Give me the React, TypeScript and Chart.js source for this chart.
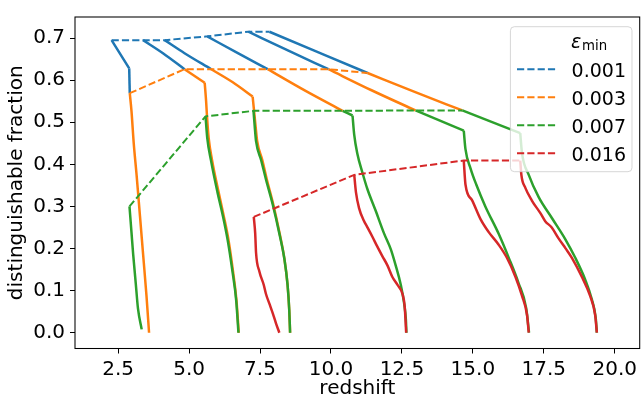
import React, { useEffect, useRef } from "react";
import { Chart, registerables } from "chart.js";

Chart.register(...registerables);

// ---- axis ticks & labels ----
const xTicks = [2.5, 5.0, 7.5, 10.0, 12.5, 15.0, 17.5, 20.0];
const yTicks = [0.0, 0.1, 0.2, 0.3, 0.4, 0.5, 0.6, 0.7];
const xLabel = "redshift";
const yLabel = "distinguishable fraction";
const legendLabels = ["0.001", "0.003", "0.007", "0.016"];
const colors = ["#1f77b4", "#ff7f0e", "#2ca02c", "#d62728"];

// ---- eps = 0.001 (blue) tracks ----
const blue1 = [[2.27, 0.695], [2.89, 0.628], [2.91, 0.569]];
const blue2 = [[3.38, 0.695], [4.08, 0.664], [4.84, 0.626]];
const blue3 = [[4.14, 0.695], [4.84, 0.664], [5.78, 0.626]];
const blue4 = [[5.64, 0.704], [6.72, 0.664], [7.77, 0.626]];
const blue5 = [[7.09, 0.715], [8.5, 0.67], [9.91, 0.626]];
const blue6 = [[7.83, 0.715], [9.56, 0.666], [11.29, 0.617]];
const blueTops = [[2.27, 0.695], [3.38, 0.695], [4.14, 0.695], [5.64, 0.704], [7.09, 0.715], [7.83, 0.715]];
const blueKinks = [1, 2, 2, 2, 2, 2];

// ---- eps = 0.003 (orange) tracks ----
const orange1 = [[2.91, 0.569], [2.97, 0.527], [3.05, 0.45], [3.15, 0.375], [3.27, 0.277], [3.38, 0.186], [3.5, 0.087], [3.59, 0.0]];
const orange2 = [[4.84, 0.626], [5.55, 0.594], [5.6, 0.55], [5.63, 0.516], [5.69, 0.463], [5.81, 0.41], [6.04, 0.334], [6.21, 0.281], [6.39, 0.22], [6.55, 0.145], [6.67, 0.077], [6.75, 0.0]];
const orange3 = [[5.78, 0.626], [6.54, 0.595], [7.24, 0.561], [7.29, 0.527], [7.34, 0.493], [7.4, 0.455], [7.58, 0.41], [7.74, 0.364], [7.97, 0.304], [8.19, 0.236], [8.36, 0.175], [8.47, 0.114], [8.53, 0.054], [8.56, 0.0]];
const orange4 = [[7.77, 0.626], [9.09, 0.575], [10.41, 0.527]];
const orange5 = [[9.91, 0.626], [11.43, 0.576], [12.98, 0.528]];
const orange6 = [[11.29, 0.617], [12.95, 0.572], [14.63, 0.528]];
const orangeTops = [[2.91, 0.569], [4.84, 0.626], [5.78, 0.626], [7.77, 0.626], [9.91, 0.626], [11.29, 0.617]];
const orangeKinks = [0, 1, 2, 2, 2, 2];

// ---- eps = 0.007 (green) tracks ----
const green1 = [[2.9, 0.3], [2.97, 0.239], [3.03, 0.186], [3.12, 0.118], [3.2, 0.057], [3.33, 0.008]];
const green2 = [[5.58, 0.514], [5.64, 0.463], [5.77, 0.41], [6.0, 0.334], [6.18, 0.281], [6.36, 0.22], [6.53, 0.145], [6.66, 0.077], [6.74, 0.0]];
const green3 = [[7.27, 0.527], [7.31, 0.493], [7.36, 0.455], [7.54, 0.41], [7.71, 0.364], [7.95, 0.304], [8.18, 0.236], [8.36, 0.175], [8.47, 0.114], [8.53, 0.054], [8.56, 0.0]];
const green4 = [[10.41, 0.527], [10.76, 0.516], [10.82, 0.47], [10.93, 0.425], [11.11, 0.38], [11.28, 0.342], [11.58, 0.289], [11.87, 0.236], [12.11, 0.198], [12.28, 0.16], [12.46, 0.114], [12.58, 0.069], [12.64, 0.031], [12.66, 0.0]];
const green5 = [[12.98, 0.528], [14.68, 0.48], [14.74, 0.436], [14.92, 0.39], [15.12, 0.352], [15.44, 0.3], [15.91, 0.235], [16.26, 0.179], [16.61, 0.118], [16.88, 0.058], [16.98, 0.0]];
const green6 = [[14.63, 0.528], [16.67, 0.474], [16.73, 0.428], [16.97, 0.375], [17.32, 0.322], [17.79, 0.272], [18.26, 0.222], [18.61, 0.178], [18.96, 0.126], [19.19, 0.08], [19.33, 0.035], [19.37, 0.0]];
const greenTops = [[2.9, 0.3], [5.58, 0.514], [7.27, 0.527], [10.41, 0.527], [12.98, 0.528], [14.63, 0.528]];
const greenKinks = [0, 0, 0, 1, 1, 1];

// ---- eps = 0.016 (red) tracks ----
const red3 = [[7.28, 0.275], [7.33, 0.236], [7.36, 0.19], [7.48, 0.145], [7.63, 0.114], [7.71, 0.092], [7.83, 0.069], [7.95, 0.046], [8.06, 0.023], [8.18, 0.0]];
const red4 = [[10.82, 0.375], [10.88, 0.334], [10.99, 0.296], [11.16, 0.266], [11.28, 0.251], [11.46, 0.228], [11.63, 0.205], [11.81, 0.182], [11.99, 0.16], [12.16, 0.133], [12.34, 0.114], [12.52, 0.092], [12.6, 0.061], [12.65, 0.0]];
const red5 = [[14.68, 0.409], [14.74, 0.352], [14.97, 0.315], [15.27, 0.27], [15.56, 0.239], [15.91, 0.209], [16.2, 0.178], [16.5, 0.133], [16.73, 0.088], [16.91, 0.042], [16.97, 0.0]];
const red6 = [[16.67, 0.409], [16.71, 0.375], [16.85, 0.344], [17.08, 0.314], [17.38, 0.284], [17.55, 0.265], [17.78, 0.25], [18.02, 0.224], [18.26, 0.201], [18.49, 0.178], [18.84, 0.133], [19.13, 0.088], [19.31, 0.042], [19.37, 0.0]];
const redTops = [[7.28, 0.275], [10.82, 0.375], [14.68, 0.409], [16.67, 0.409]];
const redKinks = [0, 0, 0, 0];

const groups = [
  { tracks: [blue1, blue2, blue3, blue4, blue5, blue6], kinks: blueKinks, tops: blueTops },
  { tracks: [orange1, orange2, orange3, orange4, orange5, orange6], kinks: orangeKinks, tops: orangeTops },
  { tracks: [green1, green2, green3, green4, green5, green6], kinks: greenKinks, tops: greenTops },
  { tracks: [red3, red4, red5, red6], kinks: redKinks, tops: redTops },
];

const FONT = "'DejaVu Sans', 'Liberation Sans', sans-serif";

const frameAndLegend = {
  id: "frameAndLegend",
  afterDraw(chart: any) {
    const { ctx, chartArea } = chart;
    const { left, top, right, bottom } = chartArea;
    ctx.save();
    // frame
    ctx.strokeStyle = "#000";
    ctx.lineWidth = 1.05;
    ctx.strokeRect(left, top, right - left, bottom - top);

    // legend box
    const bx = right - 129.3;
    const by = top + 9.7;
    const bw = 121.6;
    const bh = 145;
    const r = 4;
    ctx.beginPath();
    ctx.moveTo(bx + r, by);
    ctx.lineTo(bx + bw - r, by);
    ctx.quadraticCurveTo(bx + bw, by, bx + bw, by + r);
    ctx.lineTo(bx + bw, by + bh - r);
    ctx.quadraticCurveTo(bx + bw, by + bh, bx + bw - r, by + bh);
    ctx.lineTo(bx + r, by + bh);
    ctx.quadraticCurveTo(bx, by + bh, bx, by + bh - r);
    ctx.lineTo(bx, by + r);
    ctx.quadraticCurveTo(bx, by, bx + r, by);
    ctx.closePath();
    ctx.fillStyle = "rgba(255,255,255,0.8)";
    ctx.fill();
    ctx.strokeStyle = "rgba(204,204,204,0.8)";
    ctx.lineWidth = 1;
    ctx.stroke();

    // title: epsilon_min
    ctx.fillStyle = "#000";
    ctx.textBaseline = "alphabetic";
    ctx.textAlign = "left";
    ctx.font = `oblique 19px ${FONT}`;
    ctx.fillText("ε", bx + 60.6, by + 21.6);
    ctx.font = `13.3px ${FONT}`;
    ctx.fillText("min", bx + 71.6, by + 23.3);

    // entries
    legendLabels.forEach((lab, i) => {
      const y = by + 42.6 + i * 28;
      ctx.strokeStyle = colors[i];
      ctx.lineWidth = 2;
      ctx.setLineDash([7.2, 3.1]);
      ctx.beginPath();
      ctx.moveTo(bx + 6.6, y);
      ctx.lineTo(bx + 45, y);
      ctx.stroke();
      ctx.setLineDash([]);
      ctx.fillStyle = "#000";
      ctx.font = `19px ${FONT}`;
      ctx.fillText(lab, bx + 61.2, y + 8);
    });
    ctx.restore();
  },
};

function lineDataset(pts: number[][], color: string, width: number, order: number, smooth: boolean, dash?: number[]) {
  return {
    data: pts.map(([x, y]) => ({ x, y })),
    borderColor: color,
    borderWidth: width,
    borderDash: dash || [],
    showLine: true,
    pointRadius: 0,
    pointHoverRadius: 0,
    fill: false,
    tension: smooth ? 0.4 : 0,
    cubicInterpolationMode: smooth ? "monotone" : "default",
    order,
  };
}

export default function App() {
  const ref = useRef<HTMLCanvasElement>(null);
  useEffect(() => {
    const datasets: any[] = [];
    let order = 8;
    groups.forEach((g, gi) => {
      const trackOrder = order--;
      g.tracks.forEach((t, ti) => {
        const k = g.kinks[ti];
        const upper = t.slice(0, k + 1);
        const lower = t.slice(k);
        if (upper.length > 1) datasets.push(lineDataset(upper, colors[gi], 2.5, trackOrder, true));
        if (lower.length > 1) datasets.push(lineDataset(lower, colors[gi], 2.5, trackOrder, true));
      });
      const dashOrder = order--;
      datasets.push(lineDataset(g.tops, colors[gi], 2, dashOrder, false, [7.2, 3.1]));
    });

    const tickFont = { family: FONT, size: 20 };
    const titleFont = { family: FONT, size: 20 };
    const chart = new Chart(ref.current as HTMLCanvasElement, {
      type: "scatter",
      data: { datasets },
      plugins: [frameAndLegend],
      options: {
        animation: false,
        responsive: false,
        devicePixelRatio: 1,
        events: [],
        layout: { padding: { left: 0, right: 0, top: 2, bottom: 0 } },
        plugins: { legend: { display: false }, tooltip: { enabled: false } },
        scales: {
          x: {
            type: "linear",
            min: 0.98,
            max: 20.88,
            afterBuildTicks: (s: any) => {
              s.ticks = xTicks.map((v) => ({ value: v }));
            },
            afterFit: (s: any) => {
              s.height = 55.5;
            },
            grid: { display: true, drawOnChartArea: false, drawTicks: true, tickLength: 5, tickWidth: 1, tickColor: "#000" },
            border: { display: false },
            ticks: { color: "#000", font: tickFont, padding: 4, maxRotation: 0, autoSkip: false, callback: (v: any) => Number(v).toFixed(1) },
            title: { display: true, text: xLabel, color: "#000", font: titleFont, padding: { top: 0, bottom: 3.4 } },
          },
          y: {
            type: "linear",
            min: -0.0375,
            max: 0.75,
            afterBuildTicks: (s: any) => {
              s.ticks = yTicks.map((v) => ({ value: v }));
            },
            afterFit: (s: any) => {
              s.width = 75;
            },
            grid: { display: true, drawOnChartArea: false, drawTicks: true, tickLength: 5, tickWidth: 1, tickColor: "#000" },
            border: { display: false },
            ticks: { color: "#000", font: tickFont, padding: 5, autoSkip: false, callback: (v: any) => Number(v).toFixed(1) },
            title: { display: true, text: yLabel, color: "#000", font: titleFont, padding: { top: 5, bottom: 0 } },
          },
        },
      } as any,
    });
    return () => chart.destroy();
  }, []);
  return (
    <canvas
      ref={ref}
      width={641}
      height={404}
      style={{ position: "absolute", left: 0, top: 0, width: 641, height: 404, display: "block" }}
    />
  );
}
